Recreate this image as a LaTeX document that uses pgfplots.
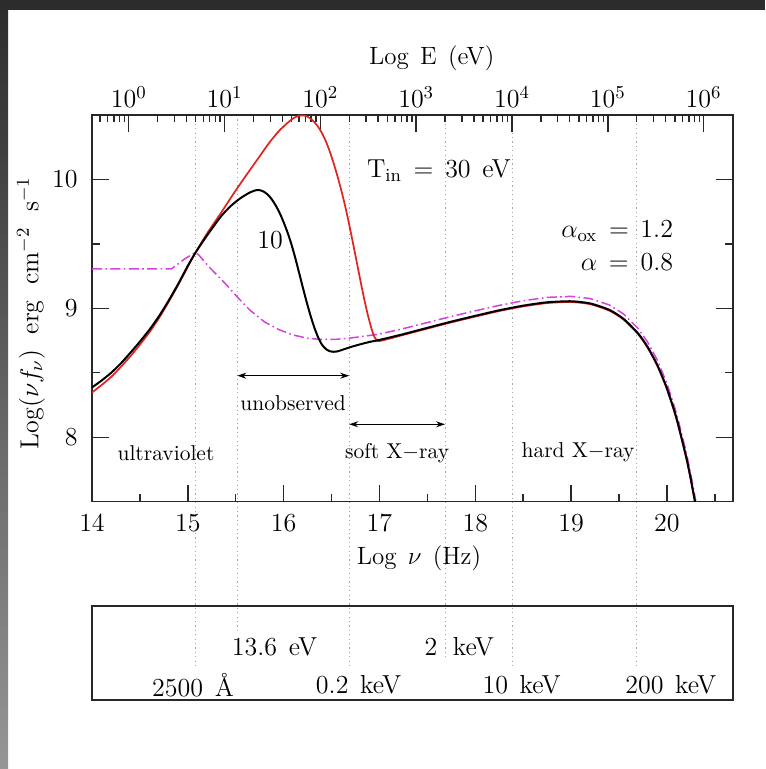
\RequirePackage{fix-cm}
\documentclass[border=0pt]{standalone}
\usepackage{pgfplots}
\usepackage{pgfplotstable}
\pgfplotsset{compat=1.18}
\usetikzlibrary{arrows.meta}

\definecolor{sedred}{RGB}{226,34,30}
\definecolor{sedmag}{RGB}{214,66,222}
\definecolor{framegray}{RGB}{44,44,44}
\definecolor{edgegray}{RGB}{150,150,150}
\definecolor{gridgray}{RGB}{165,165,165}
\definecolor{axisgray}{RGB}{40,40,40}

\newcommand\tickfont{\fontsize{13}{15}\selectfont}
\newcommand\labfont{\fontsize{12.5}{15}\selectfont}
\newcommand\smallfont{\fontsize{10.75}{13}\selectfont}
\newcommand\gap{\hspace{0.45em}}

% log(nu f_nu) against log(nu): disc with kT_in = 10 eV
\pgfplotstableread{
x y
14.00 8.386
14.10 8.440
14.20 8.500
14.30 8.572
14.40 8.655
14.50 8.742
14.60 8.835
14.70 8.940
14.80 9.060
14.90 9.190
15.00 9.330
15.08 9.432
15.20 9.565
15.35 9.717
15.45 9.795
15.55 9.855
15.65 9.900
15.72 9.918
15.76 9.915
15.80 9.902
15.84 9.878
15.88 9.842
15.92 9.795
15.96 9.737
16.00 9.668
16.04 9.590
16.08 9.500
16.12 9.395
16.16 9.280
16.20 9.163
16.24 9.050
16.28 8.945
16.32 8.852
16.36 8.775
16.40 8.718
16.44 8.685
16.48 8.668
16.52 8.663
16.56 8.666
16.60 8.675
16.70 8.700
16.80 8.721
16.90 8.740
17.00 8.755
17.25 8.800
17.50 8.849
17.75 8.897
18.00 8.942
18.25 8.985
18.50 9.021
18.75 9.047
19.00 9.055
19.20 9.038
19.40 8.988
19.55 8.917
19.70 8.805
19.80 8.699
19.90 8.560
20.00 8.380
20.10 8.148
20.20 7.851
20.25 7.673
20.29 7.514
20.293 7.500
}\discten

% disc with kT_in = 30 eV
\pgfplotstableread{
x y
14.00 8.347
14.10 8.405
14.20 8.468
14.30 8.545
14.40 8.628
14.50 8.718
14.60 8.815
14.70 8.925
14.80 9.050
14.90 9.182
15.00 9.323
15.08 9.432
15.20 9.580
15.35 9.745
15.50 9.915
15.65 10.075
15.75 10.180
15.85 10.285
15.95 10.375
16.05 10.445
16.10 10.474
16.15 10.492
16.20 10.497
16.24 10.490
16.28 10.472
16.32 10.445
16.36 10.408
16.40 10.360
16.44 10.297
16.48 10.220
16.52 10.130
16.56 10.030
16.60 9.920
16.64 9.800
16.68 9.665
16.72 9.520
16.76 9.370
16.80 9.220
16.84 9.075
16.88 8.945
16.92 8.835
16.95 8.775
16.98 8.748
17.02 8.749
17.25 8.794
17.50 8.843
17.75 8.891
18.00 8.936
18.25 8.979
18.50 9.015
18.75 9.041
19.00 9.049
19.20 9.032
19.40 8.982
19.55 8.911
19.70 8.799
19.80 8.693
19.90 8.554
20.00 8.374
20.10 8.142
20.20 7.845
20.25 7.667
20.29 7.508
20.292 7.500
}\discthirty

% broken power law reference continuum
\pgfplotstableread{
x y
14.00 9.307
14.83 9.307
14.90 9.345
14.97 9.385
15.03 9.412
15.08 9.434
15.12 9.410
15.17 9.365
15.23 9.315
15.30 9.262
15.40 9.185
15.52 9.085
15.65 8.985
15.80 8.895
15.95 8.835
16.10 8.793
16.25 8.768
16.40 8.758
16.55 8.760
16.70 8.770
16.85 8.785
17.00 8.800
17.25 8.843
17.50 8.890
17.75 8.937
18.00 8.981
18.25 9.023
18.50 9.059
18.75 9.085
19.00 9.093
19.20 9.076
19.40 9.026
19.55 8.955
19.70 8.843
19.80 8.737
19.90 8.598
20.00 8.418
20.10 8.186
20.20 7.889
20.25 7.711
20.30 7.510
20.303 7.500
}\powerlaw

\pgfplotsset{
  sedframe/.style={
    scale only axis, width=320.5pt, anchor=south west,
    axis line style={axisgray, line width=0.7pt},
    every tick/.style={axisgray, line width=0.7pt},
    tick align=inside,
    major tick length=8.5pt, minor tick length=4pt,
    tick label style={font=\tickfont},
  },
  refline/.style={gridgray, line width=0.5pt, dash pattern=on 0.6pt off 1.6pt, forget plot},
}

\begin{document}
\begin{tikzpicture}
% page and window edge
\fill[white] (0pt,0pt) rectangle (382.5pt,384.5pt);
\shade[top color=framegray, bottom color=edgegray] (0pt,0pt) rectangle (4pt,384.5pt);
\fill[framegray] (0pt,379.5pt) rectangle (382.5pt,384.5pt);

% reference energies as dotted verticals
\begin{axis}[sedframe, at={(46pt,133.65pt)}, height=193.35pt,
  xmin=14, xmax=20.69, ymin=7.5, ymax=10.5, hide axis, clip=false]
  \addplot[refline] coordinates {(15.079,10.5) (15.079,6.218)};
  \addplot[refline] coordinates {(15.517,10.5) (15.517,6.481)};
  \addplot[refline] coordinates {(16.6845,10.5) (16.6845,6.218)};
  \addplot[refline] coordinates {(17.6845,10.5) (17.6845,6.288)};
  \addplot[refline] coordinates {(18.3835,10.5) (18.3835,6.218)};
  \addplot[refline] coordinates {(19.6845,10.5) (19.6845,6.218)};
\end{axis}

% photon energy along the top edge
\begin{axis}[sedframe, at={(46pt,133.65pt)}, height=193.35pt,
  xmode=log, xmin=0.41357, xmax=2.0253e6, ymin=0, ymax=1,
  axis x line*=top, axis y line=none,
  xtick={1,10,100,1000,1e4,1e5,1e6},
  minor xtick={0.5,0.6,0.7,0.8,0.9,2,3,4,5,6,7,8,9,20,30,40,50,60,70,80,90,
    200,300,400,500,600,700,800,900,2e3,3e3,4e3,5e3,6e3,7e3,8e3,9e3,
    2e4,3e4,4e4,5e4,6e4,7e4,8e4,9e4,2e5,3e5,4e5,5e5,6e5,7e5,8e5,9e5,2e6},
  minor tick length=3.5pt,
  xlabel={Log\gap E\gap (eV)},
  xlabel style={font=\labfont, at={(axis description cs:0.53,1.1293)}, anchor=base},
]
  \addplot[draw=none] coordinates {(1,0.5)};
\end{axis}

% spectral energy distributions
\begin{axis}[sedframe, at={(46pt,133.65pt)}, height=193.35pt,
  xmin=14, xmax=20.69, ymin=7.5, ymax=10.5,
  xtick={14,...,20}, minor xtick={14.5,15.5,...,20.5},
  ytick={8,9,10}, minor ytick={8.5,9.5},
  xtick pos=left,
  yticklabel shift=3.7pt, xticklabel shift=3pt,
  xlabel={Log\gap$\nu$\gap(Hz)},
  xlabel style={font=\labfont, at={(axis description cs:0.51,-0.1637)}, anchor=base},
  ylabel={Log($\nu f_{\nu}$)\hspace{0.6em}erg\hspace{0.6em}cm$^{-2}$\hspace{0.6em}s$^{-1}$},
  ylabel style={font=\tickfont, at={(axis description cs:-0.095,0.488)}, anchor=center},
]
  \addplot[sedmag, line width=0.75pt, dash pattern=on 5pt off 1.7pt on 0.8pt off 1.7pt] table {\powerlaw};
  \addplot[sedred, line width=0.85pt, smooth, tension=0.4] table {\discthirty};
  \addplot[black, line width=1pt, smooth, tension=0.4] table {\discten};

  \node[font=\tickfont] at (axis cs:15.858,9.53) {10};
  \node[font=\tickfont, anchor=west] at (axis cs:16.797,10.065) {T$_{\mathrm{in}}$\gap=\gap 30\gap eV};
  \node[font=\tickfont, anchor=east] at (axis cs:20.138,9.598) {$\alpha_{\mathrm{ox}}$\gap=\gap 1.2};
  \node[font=\tickfont, anchor=east] at (axis cs:20.138,9.357) {$\alpha$\gap=\gap 0.8};

  \draw[{Stealth[length=4.5pt,width=3pt]}-{Stealth[length=4.5pt,width=3pt]}, line width=0.5pt]
    (axis cs:15.517,8.4775) -- (axis cs:16.6845,8.4775);
  \draw[{Stealth[length=4.5pt,width=3pt]}-{Stealth[length=4.5pt,width=3pt]}, line width=0.5pt]
    (axis cs:16.6845,8.1005) -- (axis cs:17.6845,8.1005);
  \node[font=\smallfont] at (axis cs:16.099,8.266) {unobserved};
  \node[font=\smallfont] at (axis cs:14.772,7.88) {ultraviolet};
  \node[font=\smallfont] at (axis cs:17.184,7.88) {soft X$-$ray};
  \node[font=\smallfont] at (axis cs:19.073,7.88) {hard X$-$ray};
\end{axis}

% key to the reference energies
\begin{axis}[sedframe, at={(46pt,34.5pt)}, height=47pt,
  xmin=14, xmax=20.69, ymin=0, ymax=1, xtick=\empty, ytick=\empty]
  \addplot[draw=none] coordinates {(14,0.5)};
  \node[font=\tickfont] at (axis cs:15.905,0.564) {13.6\gap eV};
  \node[font=\tickfont] at (axis cs:17.832,0.564) {2\hspace{0.6em}keV};
  \node[font=\tickfont] at (axis cs:15.054,0.16) {2500\gap Å};
  \node[font=\tickfont] at (axis cs:16.782,0.16) {0.2\gap keV};
  \node[font=\tickfont] at (axis cs:18.484,0.16) {10\gap keV};
  \node[font=\tickfont] at (axis cs:20.040,0.16) {200\gap keV};
\end{axis}
\end{tikzpicture}
\end{document}
